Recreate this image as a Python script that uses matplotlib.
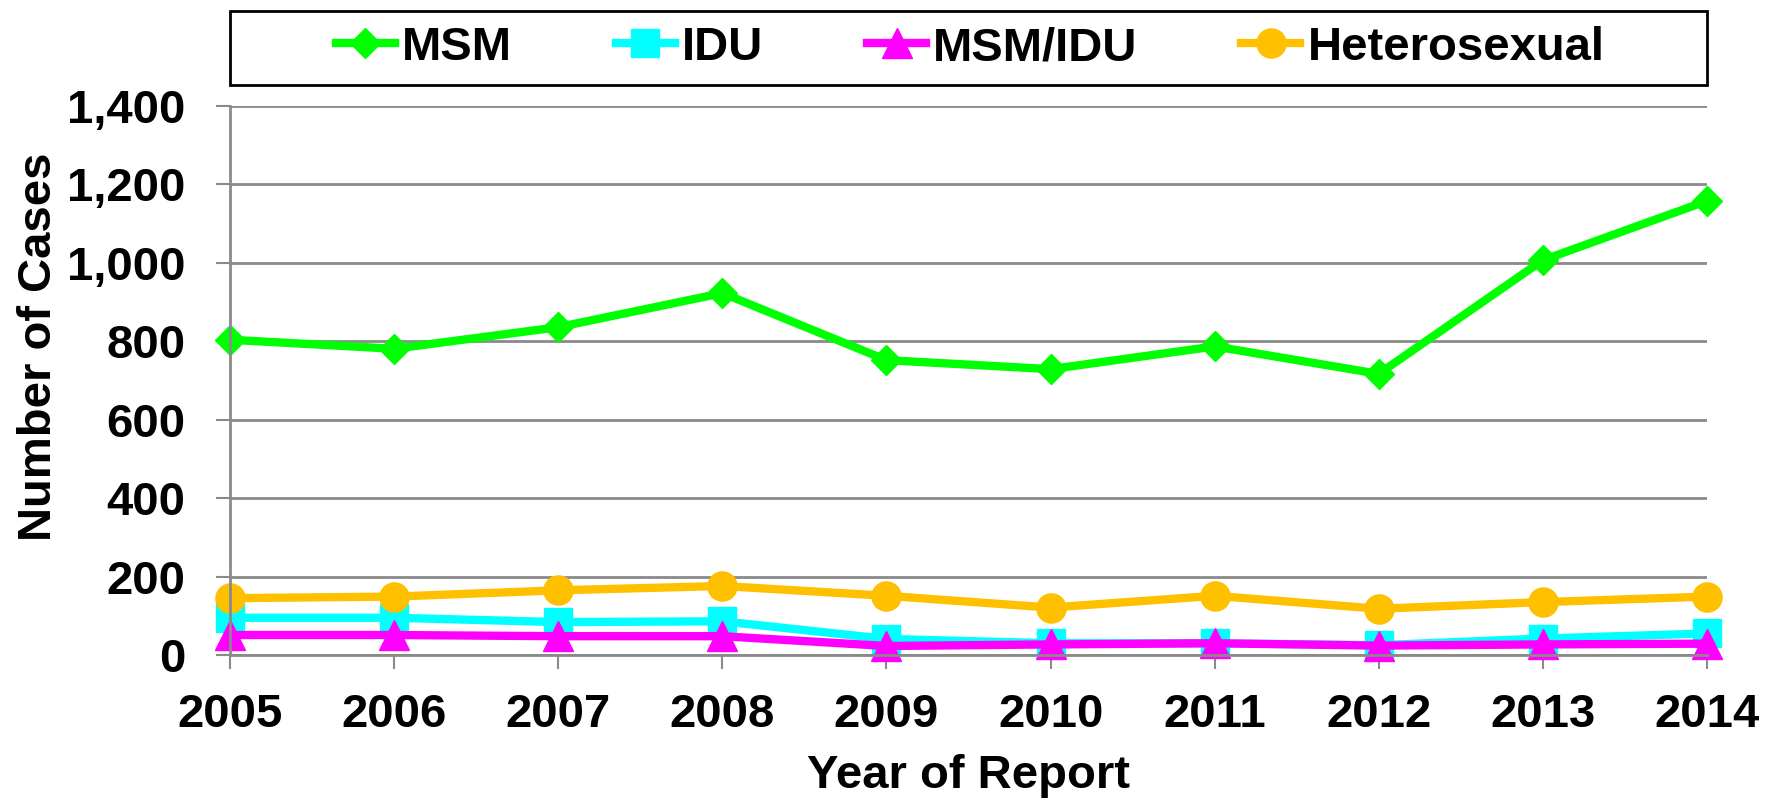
"""Reported cases by transmission category, 2005-2014."""
import matplotlib
matplotlib.use("Agg")
import matplotlib.pyplot as plt
from matplotlib.patches import Rectangle
from matplotlib.ticker import FuncFormatter

plt.rcParams["font.family"] = ["Liberation Sans", "DejaVu Sans"]
plt.rcParams["font.weight"] = "bold"

# ----- Data ---------------------------------------------------------------
years = [2005, 2006, 2007, 2008, 2009, 2010, 2011, 2012, 2013, 2014]
msm = [804, 781, 836, 923, 752, 729, 787, 717, 1007, 1158]
idu = [95, 95, 84, 86, 41, 30, 30, 25, 42, 55]
msm_idu = [51, 51, 48, 48, 23, 27, 30, 24, 27, 29]
hetero = [145, 149, 165, 176, 151, 121, 151, 118, 135, 149]
y_ticks = [0, 200, 400, 600, 800, 1000, 1200, 1400]

GRID = "#8a8a8a"
FS = 34

# ----- Plot ---------------------------------------------------------------
fig = plt.figure(figsize=(17.75, 7.99), dpi=100)
ax = fig.add_axes([0.1296, 0.1802, 0.8321, 0.6871])

series = [
    ("MSM", msm, "#00ff00", "D", 15.5),
    ("IDU", idu, "#00ffff", "s", 20),
    ("MSM/IDU", msm_idu, "#ff00ff", "^", 21),
    ("Heterosexual", hetero, "#ffc000", "o", 21),
]
for name, vals, color, marker, ms in series:
    ax.plot(years, vals, color=color, lw=6, marker=marker, ms=ms,
            mec=color, mfc=color, label=name, clip_on=False)

ax.set_xlim(years[0], years[-1])
ax.set_ylim(0, 1400)
ax.set_xticks(years)
ax.set_yticks(y_ticks)
ax.yaxis.set_major_formatter(FuncFormatter(lambda v, _: f"{int(v):,}"))
ax.grid(axis="y", color=GRID, lw=2)
ax.set_axisbelow(True)
for side in ("top", "right"):
    ax.spines[side].set_visible(False)
for side in ("left", "bottom"):
    ax.spines[side].set_color(GRID)
    ax.spines[side].set_linewidth(2)
ax.tick_params(axis="both", colors=GRID, length=10, width=1.5,
               labelcolor="black", labelsize=FS)
ax.tick_params(axis="y", pad=22)
ax.tick_params(axis="x", pad=17)

ax.set_xlabel("Year of Report", fontsize=FS, fontweight="bold")
ax.set_ylabel("Number of Cases", fontsize=FS, fontweight="bold")
ax.xaxis.set_label_coords(0.5, -0.18)
ax.yaxis.set_label_coords(-0.1145, 0.562)

# legend frame drawn separately so the box spans the plot width
fig.patches.append(Rectangle((0.1296, 0.8936), 0.8321, 0.0926,
                             transform=fig.transFigure, fill=False,
                             edgecolor="black", lw=2))
fig.legend(loc="center", bbox_to_anchor=(0.5466, 0.9399), ncol=4,
           frameon=False, handlelength=1.25, handletextpad=0.15,
           columnspacing=2.2, prop={"weight": "bold", "size": FS})

fig.savefig("out.png", dpi=100)
